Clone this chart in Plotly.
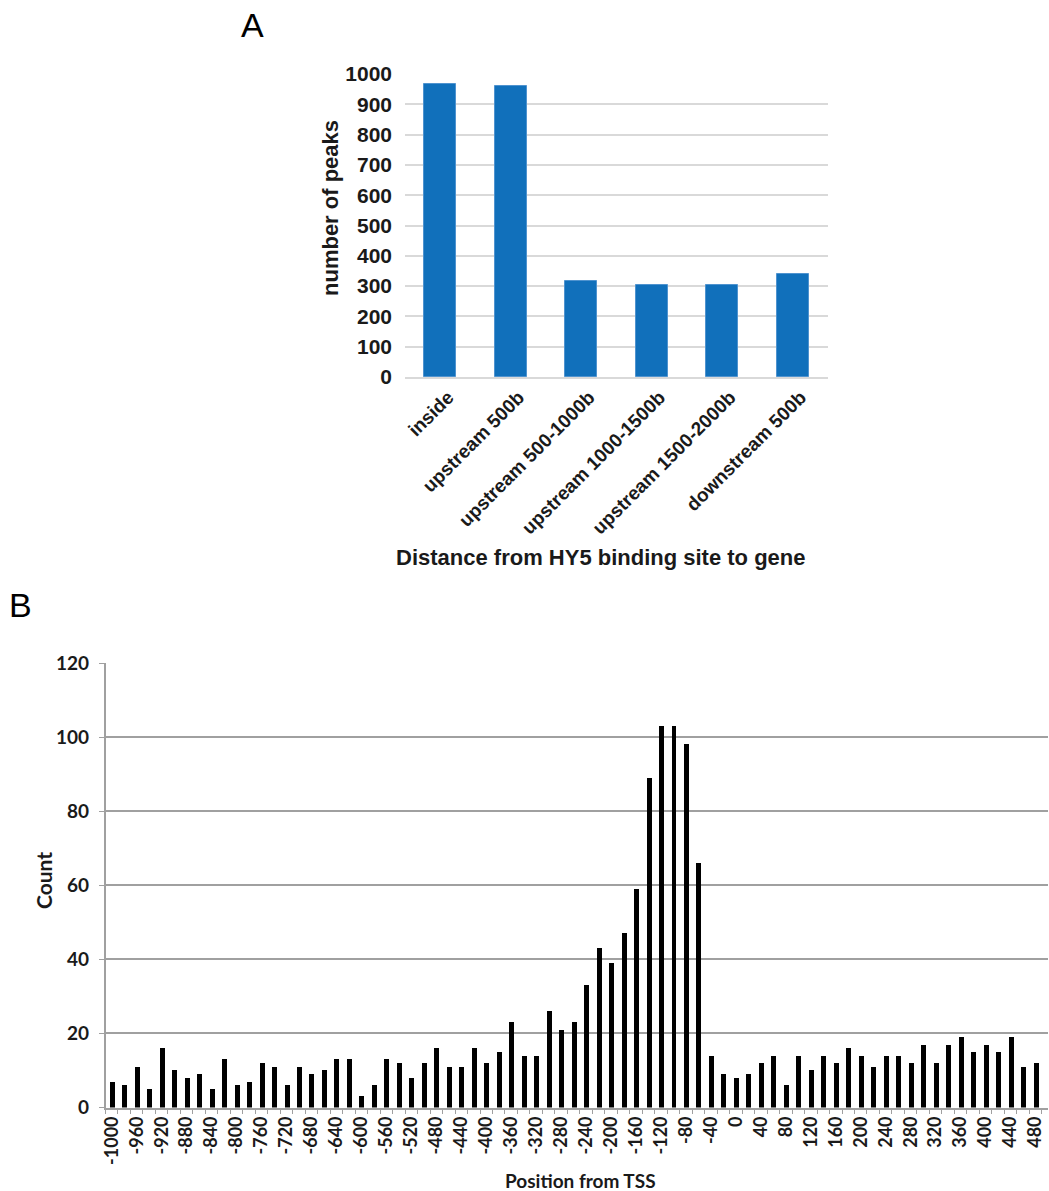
import plotly.graph_objects as go

# Panel A data
cat_a = ["inside", "upstream 500b", "upstream 500-1000b", "upstream 1000-1500b",
         "upstream 1500-2000b", "downstream 500b"]
val_a = [967, 961, 318, 305, 304, 340]

# Panel B data
pos_b = list(range(-1000, 481, 20))
cnt_b = [7, 6, 11, 5, 16, 10, 8, 9, 5, 13, 6, 7, 12, 11, 6, 11, 9, 10, 13, 13,
         3, 6, 13, 12, 8, 12, 16, 11, 11, 16, 12, 15, 23, 14, 14, 26, 21, 23, 33, 43,
         39, 47, 59, 89, 103, 103, 98, 66, 14, 9, 8, 9, 12, 14, 6, 14, 10, 14, 12, 16,
         14, 11, 14, 14, 12, 17, 12, 17, 19, 15, 17, 15, 19, 11, 12]
tick_b = list(range(-1000, 481, 40))

W, H = 1049, 1191
def px(x):
    return x / W
def py(y):
    return 1 - y / H

fa = dict(family="Liberation Sans, Arial, sans-serif", color="#1a1a1a")
fb = dict(family="Lato, sans-serif", color="#1a1a1a")

fig = go.Figure()
fig.add_trace(go.Bar(x=cat_a, y=val_a, marker=dict(color="#1170bb", line=dict(color="#4f93cf", width=1)),
                     width=0.45, xaxis="x", yaxis="y", showlegend=False))
fig.add_trace(go.Bar(x=pos_b, y=cnt_b, marker=dict(color="black", line=dict(width=0)),
                     width=8, xaxis="x2", yaxis="y2", showlegend=False))

fig.update_layout(
    width=W, height=H, margin=dict(l=0, r=0, t=0, b=0, autoexpand=False),
    paper_bgcolor="white", plot_bgcolor="white",
    xaxis=dict(domain=[px(405), px(828)], anchor="y", tickangle=-45, automargin=False,
               tickfont=dict(size=19, weight="bold", **fa), showgrid=False,
               showline=True, linecolor="#d9d9d9", linewidth=1.5, ticks="",
               ticklabelshift=8),
    yaxis=dict(domain=[py(377), py(74)], anchor="x", range=[0, 1000], automargin=False,
               tickvals=list(range(0, 1001, 100)),
               tickfont=dict(size=21, weight="bold", **fa), showgrid=True,
               gridcolor="#d9d9d9", gridwidth=1.5, zeroline=False, showline=False,
               ticklabelstandoff=12),
    xaxis2=dict(domain=[px(105.5), px(1048)], anchor="y2", range=[-1010, 500], automargin=False,
                tickvals=tick_b, ticktext=[str(t) for t in tick_b], tickangle=-90,
                tickfont=dict(size=18, weight="bold", **fb), showgrid=False,
                showline=True, linecolor="#a0a0a0", linewidth=1.5, ticks="",
                minor=dict(tick0=-1010, dtick=20, ticks="outside", ticklen=5,
                           tickcolor="#a0a0a0", tickwidth=1, showgrid=False),
                zeroline=False),
    yaxis2=dict(domain=[py(1107.5), py(663)], anchor="x2", range=[0, 120], automargin=False,
                tickvals=list(range(0, 121, 20)),
                tickfont=dict(size=19, weight="bold", **fb), showgrid=True,
                gridcolor="#a0a0a0", gridwidth=1.5, zeroline=False, showline=True,
                linecolor="#a0a0a0", linewidth=1.5, ticks="outside", ticklen=5,
                tickcolor="#a0a0a0", ticklabelstandoff=6),
    bargap=0,
)

ann = [
    dict(text="A", x=px(252), y=py(25), font=dict(size=34, family="Liberation Sans, Arial", color="black")),
    dict(text="B", x=px(20), y=py(605), font=dict(size=34, family="Liberation Sans, Arial", color="black")),
    dict(text="number of peaks", x=px(330), y=py(208), textangle=-90,
         font=dict(size=22, weight="bold", **fa)),
    dict(text="Distance from HY5 binding site to gene", x=px(601), y=py(557),
         font=dict(size=22, weight="bold", **fa)),
    dict(text="Count", x=px(43), y=py(880), textangle=-90,
         font=dict(size=21, weight="bold", **fb)),
    dict(text="Position from TSS", x=px(580), y=py(1180),
         font=dict(size=19, weight="bold", **fb)),
]
for a in ann:
    a.update(xref="paper", yref="paper", showarrow=False, xanchor="center", yanchor="middle")
fig.update_layout(annotations=ann)

fig.write_html("out.html", config={"displayModeBar": False},
               post_script="document.body.style.margin='0';document.body.style.overflow='hidden';")
